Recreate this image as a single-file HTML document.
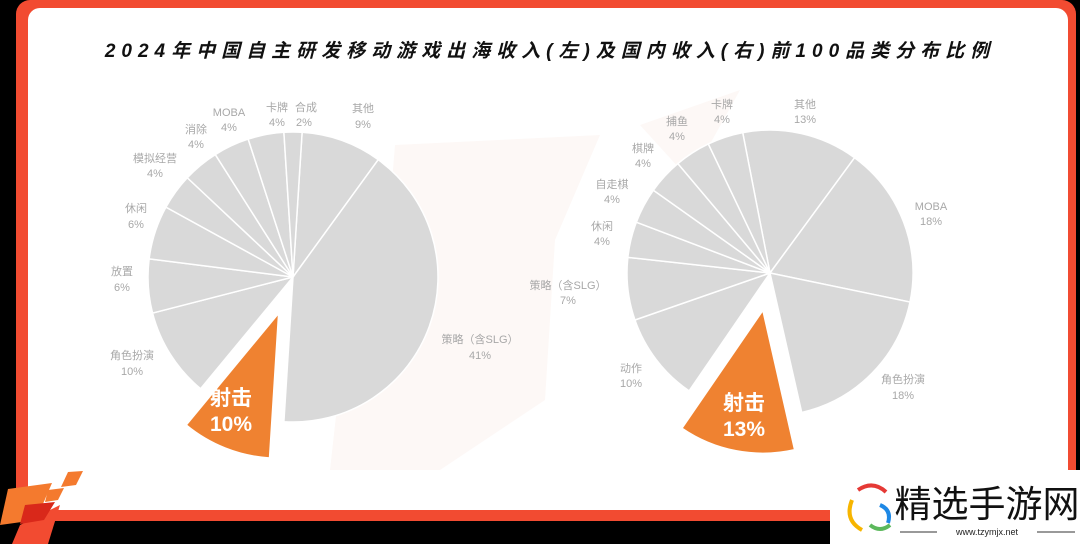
<!DOCTYPE html>
<html><head><meta charset="utf-8"><style>
html,body{margin:0;padding:0;background:#000;}
body{width:1080px;height:544px;overflow:hidden;position:relative;font-family:"Liberation Sans","Noto Sans CJK SC",sans-serif;}
svg{position:absolute;left:0;top:0;}
</style></head><body>
<svg width="1080" height="544" viewBox="0 0 1080 544" xmlns="http://www.w3.org/2000/svg">
<rect x="0" y="0" width="1080" height="544" fill="#000"/>
<rect x="16" y="0" width="1060" height="521" rx="14" fill="#f24b31"/>
<rect x="28" y="8" width="1040" height="502" rx="12" fill="#fff"/>
<polygon points="395,145 600,135 555,240 545,400 440,470 330,470 340,380 380,330" fill="#fdf8f6"/>
<polygon points="640,125 740,90 690,180" fill="#fdf8f6"/>
<g id="pies"></g>
<text x="550" y="57" text-anchor="middle" font-size="19" font-weight="bold" font-style="italic" letter-spacing="6" fill="#111" font-family="Liberation Sans,Noto Sans CJK SC,sans-serif">2024年中国自主研发移动游戏出海收入(左)及国内收入(右)前100品类分布比例</text>
<g font-size="11" fill="#a8a8a8" text-anchor="middle" font-family="Liberation Sans,Noto Sans CJK SC,sans-serif">
<text x="229" y="116">MOBA</text><text x="229" y="131">4%</text>
<text x="277" y="111">卡牌</text><text x="277" y="126">4%</text>
<text x="306" y="111">合成</text><text x="304" y="126">2%</text>
<text x="363" y="112">其他</text><text x="363" y="128">9%</text>
<text x="196" y="133">消除</text><text x="196" y="148">4%</text>
<text x="155" y="162">模拟经营</text><text x="155" y="177">4%</text>
<text x="136" y="212">休闲</text><text x="136" y="228">6%</text>
<text x="122" y="275">放置</text><text x="122" y="291">6%</text>
<text x="132" y="359">角色扮演</text><text x="132" y="375">10%</text>
<text x="480" y="343">策略（含SLG）</text><text x="480" y="359">41%</text>
<text x="722" y="108">卡牌</text><text x="722" y="123">4%</text>
<text x="805" y="108">其他</text><text x="805" y="123">13%</text>
<text x="677" y="125">捕鱼</text><text x="677" y="140">4%</text>
<text x="643" y="152">棋牌</text><text x="643" y="167">4%</text>
<text x="612" y="188">自走棋</text><text x="612" y="203">4%</text>
<text x="602" y="230">休闲</text><text x="602" y="245">4%</text>
<text x="568" y="289">策略（含SLG）</text><text x="568" y="304">7%</text>
<text x="631" y="372">动作</text><text x="631" y="387">10%</text>
<text x="931" y="210">MOBA</text><text x="931" y="225">18%</text>
<text x="903" y="383">角色扮演</text><text x="903" y="399">18%</text>
</g>
<g font-size="21" font-weight="bold" fill="#fff" text-anchor="middle" font-family="Liberation Sans,Noto Sans CJK SC,sans-serif">
<text x="231" y="405">射击</text><text x="231" y="431">10%</text>
<text x="744" y="410">射击</text><text x="744" y="436">13%</text>
</g>
<polygon points="8,489 52,483 36,520 0,525" fill="#f47a2e"/>
<polygon points="20,525 60,505 48,544 12,544" fill="#f24b31"/>
<polygon points="25,505 55,502 44,520 20,524" fill="#d9281a"/>
<polygon points="68,472 83,471 76,485 61,487" fill="#f47a2e"/>
<polygon points="48,490 64,488 58,500 45,502" fill="#f47a2e"/>
<rect x="830" y="470" width="250" height="74" fill="#fff"/>
<path d="M852 500 q-8 20 10 30" stroke="#f7b500" stroke-width="4" fill="none"/>
<path d="M858 490 q15 -10 28 2" stroke="#e53935" stroke-width="4" fill="none"/>
<path d="M870 525 q10 8 20 0" stroke="#5cb85c" stroke-width="4" fill="none"/>
<path d="M880 505 q12 5 8 18" stroke="#1e88e5" stroke-width="4" fill="none"/>
<text x="987" y="517" text-anchor="middle" font-size="37" fill="#111" font-family="Liberation Sans,Noto Sans CJK SC,sans-serif">精选手游网</text>
<line x1="900" y1="532" x2="937" y2="532" stroke="#333" stroke-width="1"/>
<line x1="1037" y1="532" x2="1075" y2="532" stroke="#333" stroke-width="1"/>
<text x="987" y="535" text-anchor="middle" font-size="9" fill="#222" font-family="Liberation Sans,sans-serif">www.tzymjx.net</text>
</svg>
<script>
function pie(cx,cy,r,start,vals,hi,off){
  var g=document.getElementById('pies'),a=start,s='';
  var tot=vals.reduce(function(p,c){return p+c},0);
  vals.forEach(function(v,i){
    var sw=v/tot*360,a0=a,a1=a+sw;a=a1;
    var dx=0,dy=0,col='#d9d9d9';
    if(i===hi){var m=(a0+a1)/2*Math.PI/180;dx=Math.sin(m)*off;dy=-Math.cos(m)*off;col='#ef8231';}
    var x0=cx+dx+r*Math.sin(a0*Math.PI/180),y0=cy+dy-r*Math.cos(a0*Math.PI/180);
    var x1=cx+dx+r*Math.sin(a1*Math.PI/180),y1=cy+dy-r*Math.cos(a1*Math.PI/180);
    s+='<path d="M'+(cx+dx)+' '+(cy+dy)+' L'+x0+' '+y0+' A'+r+' '+r+' 0 '+(sw>180?1:0)+' 1 '+x1+' '+y1+' Z" fill="'+col+'" stroke="#fff" stroke-width="1.5"/>';
  });
  g.innerHTML+=s;
}
pie(293,277,145,3.6,[9,41,10,10,6,6,4,4,4,4,2],2,39);
pie(770,273,143,-11,[13,18,18,13,10,7,4,4,4,4,4],3,38);
</script>
</body></html>
